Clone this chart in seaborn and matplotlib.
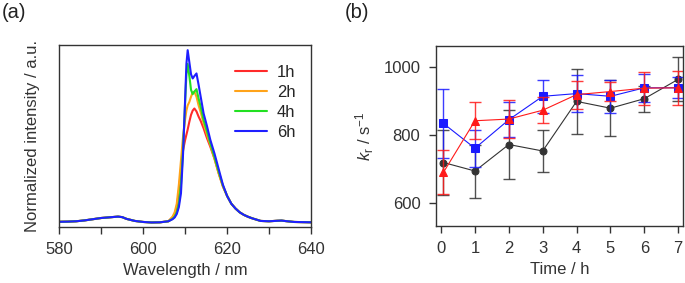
import numpy as np
import pandas as pd
import matplotlib
matplotlib.use('Agg')
import matplotlib.pyplot as plt
import seaborn as sns

# (a) emission spectra
wavelength = [580, 582, 584, 586, 588, 590, 592, 594, 595, 596, 598, 600, 602, 604, 606,
              607, 607.5, 608, 608.5, 609, 609.5, 610, 610.3, 610.6, 611, 611.4, 611.8,
              612.2, 612.7, 613.2, 613.7, 614.4, 615.2, 616, 617, 618, 619, 620, 621, 622,
              623, 624, 625, 626, 628, 630, 632, 633, 634, 636, 638, 640]
base_left = [0.005, 0.006, 0.008, 0.013, 0.02, 0.027, 0.031, 0.035, 0.032, 0.022, 0.01,
             0.004, 0.001, 0.002, 0.008]
tail = [0.155, 0.11, 0.082, 0.06, 0.045, 0.034, 0.025, 0.01, 0.008, 0.011, 0.012, 0.009,
        0.004, 0.003, 0.002]
int_1h = base_left + [0.03, 0.05, 0.09, 0.18, 0.31, 0.42, 0.48, 0.51, 0.54, 0.585, 0.625,
                      0.65, 0.662, 0.645, 0.615, 0.59, 0.547, 0.49, 0.44, 0.37, 0.285, 0.21] + tail
int_2h = base_left + [0.035, 0.06, 0.11, 0.22, 0.36, 0.50, 0.60, 0.65, 0.68, 0.70, 0.73,
                      0.755, 0.759, 0.73, 0.68, 0.64, 0.575, 0.51, 0.45, 0.37, 0.285, 0.21] + tail
int_4h = base_left + [0.022, 0.035, 0.06, 0.11, 0.22, 0.42, 0.70, 0.86, 0.92, 0.85, 0.77,
                      0.745, 0.76, 0.774, 0.72, 0.672, 0.595, 0.53, 0.46, 0.38, 0.295, 0.215] + tail
int_6h = base_left + [0.02, 0.03, 0.05, 0.09, 0.17, 0.40, 0.72, 0.92, 1.00, 0.93, 0.86,
                      0.836, 0.85, 0.865, 0.80, 0.73, 0.633, 0.56, 0.48, 0.40, 0.31, 0.22] + tail
spectra = {'1h': int_1h, '2h': int_2h, '4h': int_4h, '6h': int_6h}
spec_colors = {'1h': '#ff2a2a', '2h': '#ffa31a', '4h': '#22e022', '6h': '#1f1fff'}

# (b) radiative rate constant vs time
time_h = [0.07, 1, 2, 3, 4, 5, 6, 7]
kr_black = [719, 694, 772, 753, 899, 879, 907, 964]
err_black = [95, 78, 101, 62, 95, 83, 38, 65]
kr_blue = [834, 761, 845, 914, 922, 914, 939, 939]
err_blue = [102, 55, 52, 48, 54, 49, 41, 31]
kr_red = [690, 842, 847, 873, 919, 928, 938, 939]
err_red = [65, 55, 56, 39, 41, 27, 49, 50]

sns.set_style('ticks')
plt.rcParams['font.family'] = ['Liberation Sans', 'DejaVu Sans']
plt.rcParams['mathtext.fontset'] = 'custom'
plt.rcParams['mathtext.it'] = 'Liberation Sans:italic'
plt.rcParams['mathtext.rm'] = 'Liberation Sans'

fs = 12
fig = plt.figure(figsize=(6.85, 2.83), dpi=100)
ax1 = fig.add_axes([0.0866, 0.198, 0.3674, 0.643])
ax2 = fig.add_axes([0.636, 0.2025, 0.361, 0.636])

frames = []
for name, vals in spectra.items():
    frames.append(pd.DataFrame({'wl': wavelength, 'I': vals, 'time': name}))
df = pd.concat(frames, ignore_index=True)
sns.lineplot(ax=ax1, data=df, x='wl', y='I', hue='time', palette=spec_colors, lw=1.5,
             sort=False, estimator=None)
ax1.set_xlim(580, 640)
ax1.set_ylim(-0.025, 1.03)
ax1.set_xticks(np.arange(580, 641, 10))
ax1.set_xticklabels(['580', '', '600', '', '620', '', '640'])
ax1.set_yticks([])
ax1.set_xlabel('Wavelength / nm', fontsize=fs, color='#333333', labelpad=4)
ax1.set_ylabel('Normalized intensity / a.u.', fontsize=fs, color='#333333', labelpad=14)
leg = ax1.legend(loc='upper left', frameon=False, fontsize=fs, handlelength=1.9,
                 handletextpad=0.6, labelspacing=0.3, borderpad=0, borderaxespad=0,
                 bbox_to_anchor=(0.698, 0.89))
for line in leg.get_lines():
    line.set_linewidth(1.5)

series = [(kr_black, err_black, '#333333', 'o', 5),
          (kr_blue, err_blue, '#1a1aff', 's', 5.5),
          (kr_red, err_red, '#ff1a1a', '^', 5.5)]
for vals, errs, col, mk, ms in series:
    ax2.errorbar(time_h, vals, yerr=errs, fmt='none', ecolor=col, elinewidth=1.0,
                 capsize=4, capthick=1.0, alpha=0.85)
    sns.lineplot(ax=ax2, x=time_h, y=vals, color=col, marker=mk, markersize=ms,
                 markeredgecolor=col, lw=0.8, alpha=1)
ax2.set_xlim(-0.16, 7.14)
ax2.set_ylim(533, 1063)
ax2.set_xticks(range(8))
ax2.set_yticks([600, 800, 1000])
ax2.set_xlabel('Time / h', fontsize=fs, color='#333333', labelpad=4)
ax2.set_ylabel('$k_\\mathrm{r}$ / s$^{-1}$', fontsize=fs, color='#333333', labelpad=5)

for ax in (ax1, ax2):
    for sp in ax.spines.values():
        sp.set_color('#333333')
        sp.set_linewidth(1.0)
    ax.tick_params(length=5, width=1, colors='#333333', labelsize=fs, pad=6)

fig.text(0.002, 0.955, '(a)', fontsize=14.5, color='#222222', va='center')
fig.text(0.503, 0.955, '(b)', fontsize=14.5, color='#222222', va='center')

fig.savefig('out.png', dpi=100, facecolor='white')
